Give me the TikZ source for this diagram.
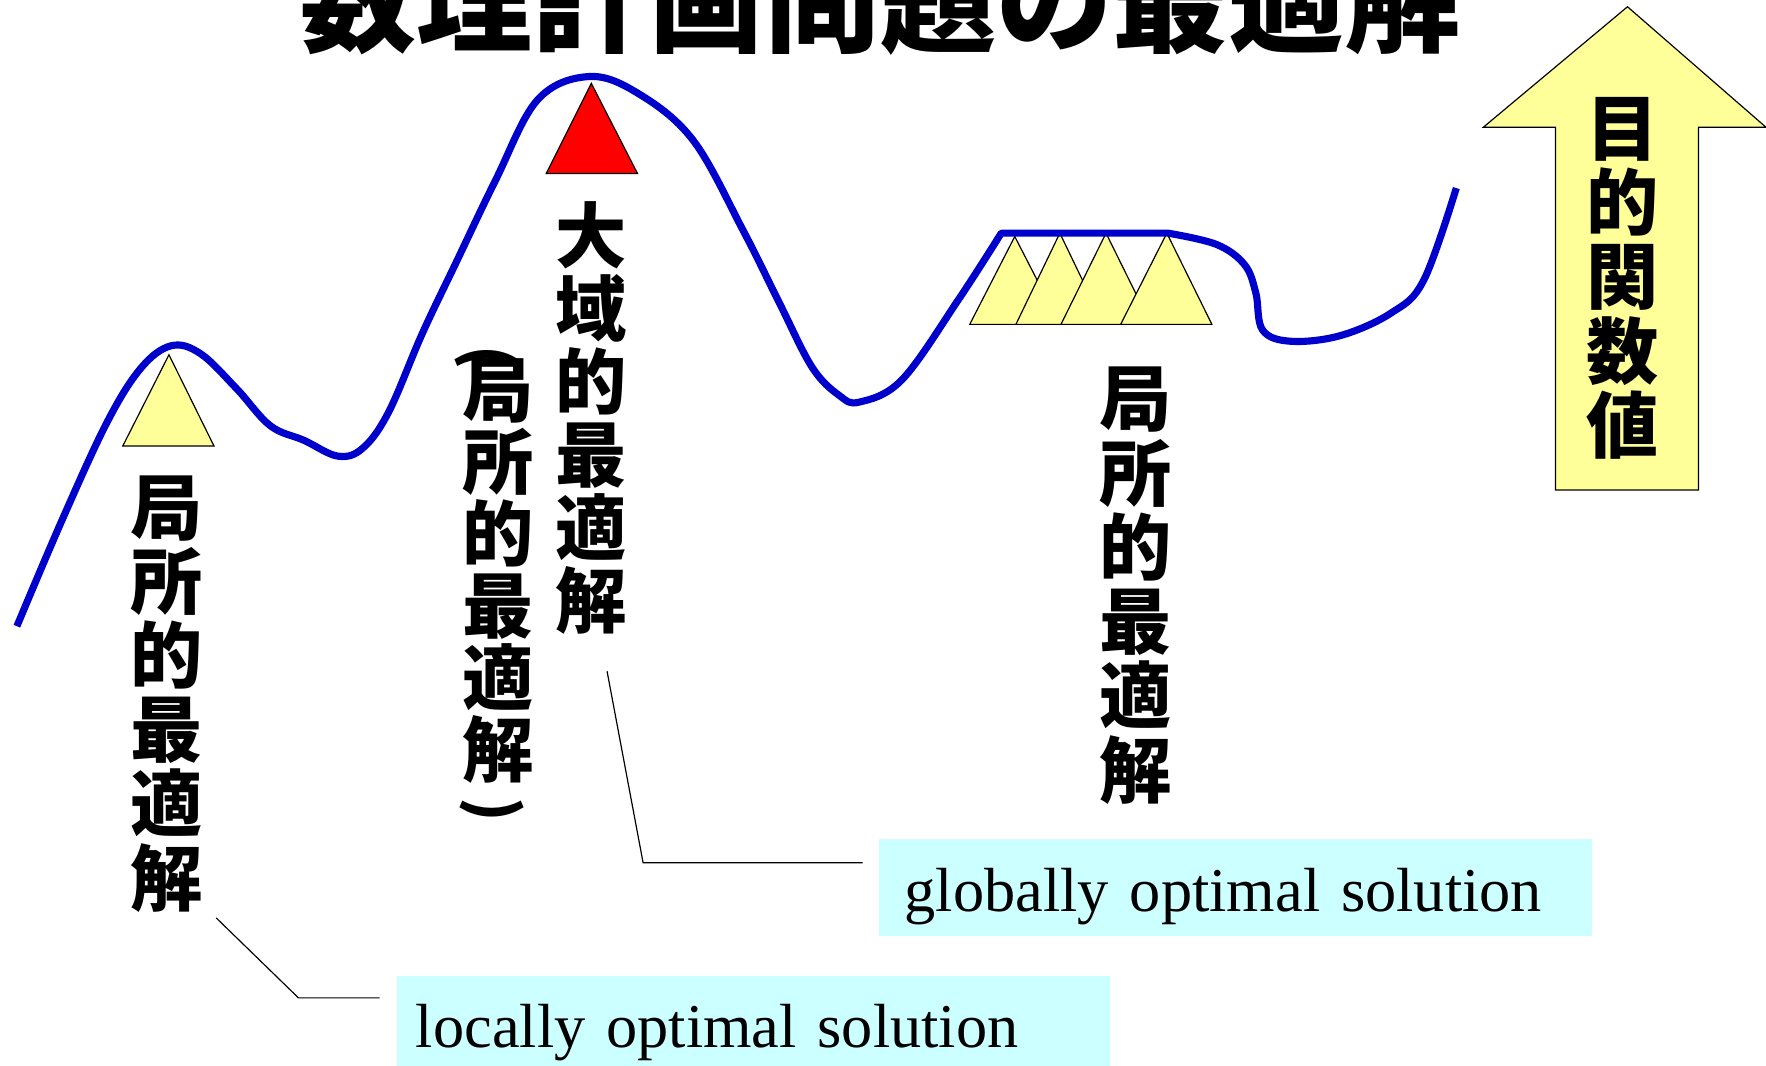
\documentclass[tikz,border=0pt]{standalone}
\usepackage{fontspec}
\setmainfont{Liberation Serif}
\newfontfamily\cjk{Noto Sans CJK JP}
\definecolor{ylw}{HTML}{FFFF99}
\definecolor{cyanbox}{HTML}{CCFFFF}
\definecolor{curveblue}{HTML}{0000CC}
\definecolor{redtri}{HTML}{FF0000}
\begin{document}
\begin{tikzpicture}[x=0.02cm,y=-0.02cm,
  curve/.style={draw=curveblue, line width=3.6pt, line join=round},
  tri/.style={draw=black, line width=0.6pt, fill=ylw, line join=miter},
  redmark/.style={draw=black, line width=0.6pt, fill=redtri},
  vcol/.style={font=\cjk\bfseries\fontsize{36.5}{37.5}\selectfont, align=center, inner sep=0pt},
  paren/.style={font=\cjk\bfseries\fontsize{31}{31}\selectfont, inner sep=0pt, rotate=-90},
  leader/.style={draw=black, line width=0.6pt},
  labelbox/.style={fill=cyanbox, anchor=north west, align=left, inner ysep=0pt,
    font=\fontsize{31.5}{38}\selectfont}]
\useasboundingbox (0,0) rectangle (1568,946);
\clip (0,0) rectangle (1568,946);

% title
\node[font=\cjk\bfseries\fontsize{58.6}{60}\selectfont, anchor=base, inner sep=0pt] (title) at (782,39) {数理計画問題の最適解};

% objective arrow
\draw[tri] (1445,6) -- (1568,113) -- (1508,113) -- (1508,435) -- (1381,435) -- (1381,113) -- (1317,113) -- cycle;
\node[vcol, font=\cjk\bfseries\fontsize{36.5}{37.5}\selectfont] (acol) at (1441,247) {目\\的\\関\\数\\値};

% markers
\draw[tri] (150,315) -- (190,396) -- (109,396) -- cycle;
\draw[redmark] (525,74) -- (566,154) -- (485,154) -- cycle;
\draw[tri] (901,210) -- (941,288) -- (861,288) -- cycle;
\draw[tri] (941,207) -- (980,288) -- (902,288) -- cycle;
\draw[tri] (982,207) -- (1022,288) -- (942,288) -- cycle;
\draw[tri] (1036,207) -- (1076,288) -- (995,288) -- cycle;

% curve
\draw[curve] plot[smooth, tension=0.6] coordinates {(15,556) (55,462) (95,375) (125,327) (152,307) (178,314) (210,345) (240,378) (270,391) (300,405) (322,398) (345,366) (375,296) (405,233) (440,160) (477,89) (522,68) (565,82) (615,124) (660,205) (692,269) (721,326) (745,351) (763,357) (801,337) (851,266) (889,207)}
  -- plot[smooth, tension=0.6] coordinates {(1037,207) (1080,217) (1105,235) (1115,260) (1121,293) (1146,303) (1190,298) (1235,278) (1264,249) (1293,167)};

% vertical labels
\node[vcol] (lcol) at (148,616) {局\\所\\的\\最\\適\\解};
\node[vcol, font=\cjk\bfseries\fontsize{36}{36.9}\selectfont] (gcol) at (525,371) {大\\域\\的\\最\\適\\解};
\node[vcol, font=\cjk\bfseries\fontsize{36}{36.4}\selectfont] (pcol) at (442,507) {局\\所\\的\\最\\適\\解};
\node[paren] (popen) at (432,318) {(};
\node[paren] (pclose) at (437,719) {)};
\node[vcol] (rcol) at (1008,520) {局\\所\\的\\最\\適\\解};

% english labels
\node[labelbox, text width=11.74cm, inner xsep=0.46cm, text height=1.28cm, text depth=0.44cm] (gbox) at (780,745) {globally optimal solution};
\node[labelbox, text width=11.98cm, inner xsep=0.34cm, text height=1.28cm, text depth=0.4cm] (lbox) at (352,866) {locally optimal solution};

% leader lines
\coordinate (g1) at (539,596);
\coordinate (g2) at (766,766);
\coordinate (l1) at (192,815);
\coordinate (l2) at (337,886);
\draw[leader] (g1) -- (571,766) -- (g2);
\draw[leader] (l1) -- (265,886) -- (l2);
\end{tikzpicture}
\end{document}
